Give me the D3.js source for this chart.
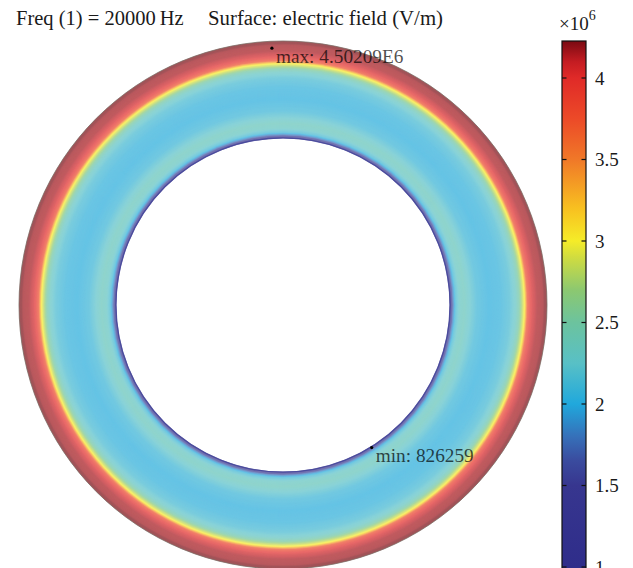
<!DOCTYPE html>
<html>
<head>
<meta charset="utf-8">
<script src="https://cdn.jsdelivr.net/npm/d3@7"></script>
<style>
  html, body { margin: 0; padding: 0; background: #fff; }
  svg { display: block; font-family: "Liberation Serif", "DejaVu Serif", serif; }
</style>
</head>
<body>
<svg id="chart" width="633" height="568"></svg>
<script>
// Annulus geometry (normalised model units, outer radius = 1)
const innerRadius = 0.633;
const outerRadius = 1.0;

// Radial profile of |E| across the annulus: position from inner (0) to outer (1) wall, value in 1e6 V/m
const profilePos = [0.00, 0.012, 0.03, 0.06, 0.10, 0.15, 0.20, 0.28, 0.40, 0.52, 0.62, 0.68, 0.715, 0.745, 0.77, 0.785, 0.80, 0.83, 0.86, 0.90, 0.96, 1.00];
const profileVal = [0.83, 1.25, 1.75, 2.12, 2.30, 2.35, 2.26, 2.10, 2.02, 2.05, 2.15, 2.30, 2.50, 2.80, 3.02, 3.35, 3.75, 3.98, 4.08, 4.15, 4.17, 4.30];

// Colour table (value in 1e6 V/m -> colour)
const cmapVal = [0.826, 1.0, 1.5, 1.65, 1.8, 2.0, 2.25, 2.5, 2.7, 2.9, 3.0, 3.2, 3.5, 3.75, 4.0, 4.1, 4.227];
const cmapCol = ["#2c2a86", "#2f2d8a", "#37368f", "#3a4b9e", "#3670b9", "#20a8dc", "#58c0c6", "#6cc39e", "#8cc870", "#d0dc40", "#f5ec28", "#f8c020", "#f07828", "#ec4a28", "#e02a28", "#c41c22", "#7a0a12"];

// Colour bar ticks
const tickVals = [1, 1.5, 2, 2.5, 3, 3.5, 4];
const tickLabels = ["1", "1.5", "2", "2.5", "3", "3.5", "4"];

// Extremes of the surface field
const extremes = [
  { label: "max: 4.50209E6", x: -0.042, y: 0.973 },
  { label: "min: 826259", x: 0.336, y: -0.540 }
];

const titleParts = ["Freq (1) = 20000\u2009Hz", "Surface: electric field (V/m)"];

const svg = d3.select("#chart");

const x = d3.scaleLinear().domain([-1, 1]).range([19, 547]);
const y = d3.scaleLinear().domain([-1, 1]).range([569, 41]);
const cx = x(0), cy = y(0);
const rPx = d3.scaleLinear().domain([0, 1]).range([0, x(1) - x(0)]);

const color = d3.scaleLinear().domain(cmapVal).range(cmapCol).clamp(true);
const profile = d3.scaleLinear().domain(profilePos).range(profileVal).clamp(true);
// surface rendered semi-transparent over the white page
const shade = v => d3.interpolateRgb("#ffffff", color(v))(0.7);

// Annulus: nested discs from the outer wall inwards
const steps = 240;
const rings = d3.range(steps + 1).map(i => 1 - i / steps);
const plot = svg.append("g");
plot.selectAll("circle.band")
  .data(rings)
  .join("circle")
  .attr("class", "band")
  .attr("cx", cx).attr("cy", cy)
  .attr("r", t => rPx(innerRadius + t * (outerRadius - innerRadius)))
  .attr("fill", t => shade(profile(t)));
// hole
plot.append("circle")
  .attr("cx", cx).attr("cy", cy)
  .attr("r", rPx(innerRadius) - 0.5)
  .attr("fill", "#ffffff");
// boundaries
plot.append("circle")
  .attr("cx", cx).attr("cy", cy).attr("r", rPx(outerRadius))
  .attr("fill", "none").attr("stroke", "#7d6f68").attr("stroke-width", 1).attr("stroke-opacity", 0.8);
plot.append("circle")
  .attr("cx", cx).attr("cy", cy).attr("r", rPx(innerRadius))
  .attr("fill", "none").attr("stroke", "#45459a").attr("stroke-width", 1.4).attr("stroke-opacity", 0.85);

// Extremes markers and labels
const ext = svg.append("g");
ext.selectAll("circle")
  .data(extremes)
  .join("circle")
  .attr("cx", d => x(d.x)).attr("cy", d => y(d.y)).attr("r", 1.6)
  .attr("fill", "#000");
ext.selectAll("text")
  .data(extremes)
  .join("text")
  .attr("x", d => x(d.x) + 4)
  .attr("y", d => y(d.y) + 14.5)
  .attr("font-size", 19.3)
  .attr("fill", "#000")
  .attr("fill-opacity", 0.7)
  .text(d => d.label);

// Title
svg.append("text")
  .attr("x", 16).attr("y", 25)
  .attr("font-size", 20.5)
  .attr("fill", "#1a1a1a")
  .text(titleParts[0]);
svg.append("text")
  .attr("x", 208).attr("y", 25)
  .attr("font-size", 20.8)
  .attr("fill", "#1a1a1a")
  .text(titleParts[1]);

// Colour bar
const barX = 562, barW = 24;
const cy2 = d3.scaleLinear().domain([1, 4]).range([567, 78]);
const cMin = cmapVal[0], cMax = cmapVal[cmapVal.length - 1];

const grad = svg.append("defs").append("linearGradient")
  .attr("id", "cbar").attr("x1", 0).attr("y1", 1).attr("x2", 0).attr("y2", 0);
grad.selectAll("stop")
  .data(cmapVal)
  .join("stop")
  .attr("offset", v => (v - cMin) / (cMax - cMin))
  .attr("stop-color", (v, i) => cmapCol[i]);

const bar = svg.append("g");
bar.append("rect")
  .attr("x", barX).attr("y", cy2(cMax))
  .attr("width", barW).attr("height", cy2(cMin) - cy2(cMax))
  .attr("fill", "url(#cbar)")
  .attr("stroke", "#111").attr("stroke-width", 1.2);

bar.selectAll("line.tl")
  .data(tickVals)
  .join("line").attr("class", "tl")
  .attr("x1", barX).attr("x2", barX + 4.5)
  .attr("y1", v => cy2(v)).attr("y2", v => cy2(v))
  .attr("stroke", "#111").attr("stroke-width", 1.2);
bar.selectAll("line.tr")
  .data(tickVals)
  .join("line").attr("class", "tr")
  .attr("x1", barX + barW - 4.5).attr("x2", barX + barW)
  .attr("y1", v => cy2(v)).attr("y2", v => cy2(v))
  .attr("stroke", "#111").attr("stroke-width", 1.2);
bar.selectAll("text.tick")
  .data(tickVals)
  .join("text").attr("class", "tick")
  .attr("x", 595)
  .attr("y", v => cy2(v))
  .attr("dy", "0.35em")
  .attr("font-size", 19)
  .attr("fill", "#1a1a1a")
  .text((v, i) => tickLabels[i]);

const unit = svg.append("text")
  .attr("x", 559).attr("y", 30)
  .attr("font-size", 19)
  .attr("fill", "#1a1a1a");
unit.append("tspan").text("\u00d710");
unit.append("tspan").attr("dy", -10).attr("font-size", 14).text("6");
</script>
</body>
</html>
